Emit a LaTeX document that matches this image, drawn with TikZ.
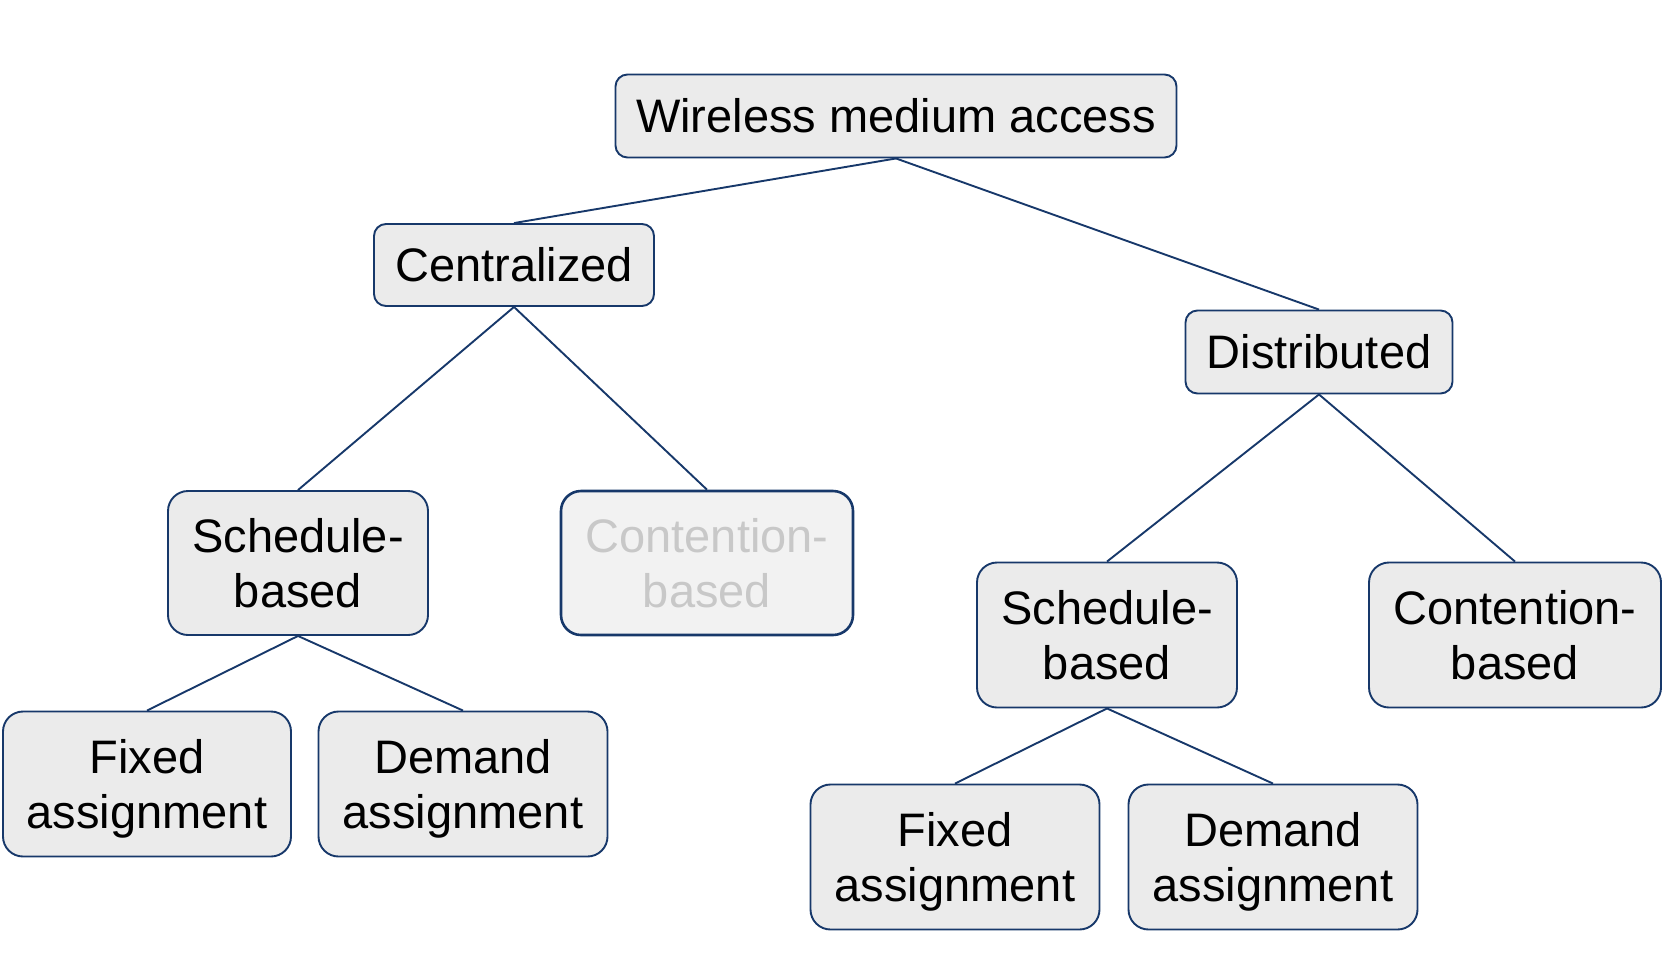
\documentclass[tikz,border=0pt]{standalone}
\usepackage{fontspec}
\setmainfont{Liberation Sans}
\definecolor{bord}{HTML}{17386A}
\definecolor{boxfill}{HTML}{EBEBEB}
\definecolor{palefill}{HTML}{F2F2F2}
\definecolor{paletext}{HTML}{C8C8C8}
\begin{document}
\begin{tikzpicture}[x=1pt,y=-1pt,
  box/.style={draw=bord, line width=1.9pt, fill=boxfill, rounded corners=12pt,
    align=center, inner sep=0pt, font=\fontsize{47}{55}\selectfont},
  tall/.style={box, rounded corners=20pt, text depth=-2pt},
  conn/.style={draw=bord, line width=1.9pt}]
\useasboundingbox (0,0) rectangle (1669,975);
\node[box, minimum width=561pt, minimum height=83pt] (wma) at (896,116) {Wireless medium access};
\node[box, minimum width=280pt, minimum height=82pt] (cen) at (514,265) {Centralized};
\node[box, minimum width=267pt, minimum height=83pt] (dis) at (1319,352) {Distributed};
\node[tall, minimum width=260pt, minimum height=144pt] (sl) at (298,563) {Schedule-\\based};
\node[tall, draw=bord, line width=2.6pt, fill=palefill, text=paletext, minimum width=292pt, minimum height=144pt] (cl) at (707,563) {Contention-\\based};
\node[tall, minimum width=288pt, minimum height=145pt] (fl) at (147,784) {Fixed\\assignment};
\node[tall, minimum width=289pt, minimum height=145pt] (dl) at (463,784) {Demand\\assignment};
\node[tall, minimum width=260pt, minimum height=145pt] (sr) at (1107,635) {Schedule-\\based};
\node[tall, minimum width=292pt, minimum height=145pt] (cr) at (1515,635) {Contention-\\based};
\node[tall, minimum width=289pt, minimum height=145pt] (fr) at (955,857) {Fixed\\assignment};
\node[tall, minimum width=289pt, minimum height=145pt] (dr) at (1273,857) {Demand\\assignment};
\draw[conn] (wma.south) -- (cen.north);
\draw[conn] (wma.south) -- (dis.north);
\draw[conn] (cen.south) -- (sl.north);
\draw[conn] (cen.south) -- (cl.north);
\draw[conn] (sl.south) -- (fl.north);
\draw[conn] (sl.south) -- (dl.north);
\draw[conn] (dis.south) -- (sr.north);
\draw[conn] (dis.south) -- (cr.north);
\draw[conn] (sr.south) -- (fr.north);
\draw[conn] (sr.south) -- (dr.north);
\end{tikzpicture}
\end{document}
